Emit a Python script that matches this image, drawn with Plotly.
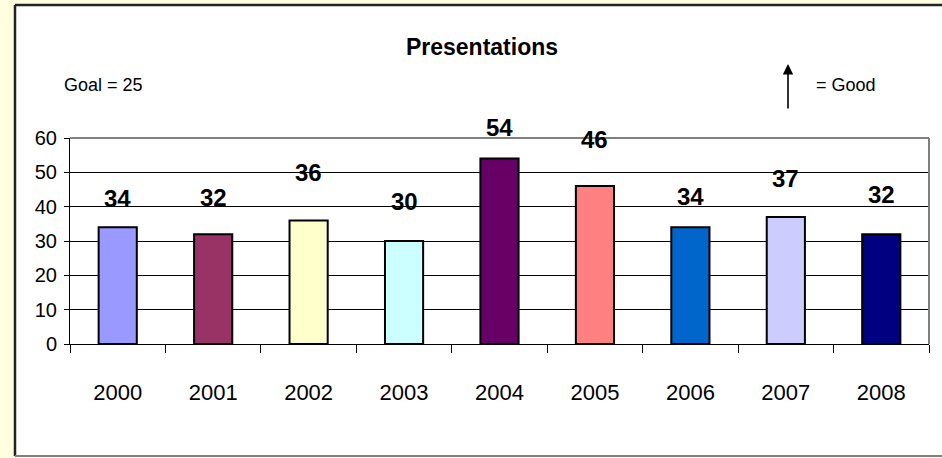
import plotly.graph_objects as go

years = ["2000", "2001", "2002", "2003", "2004", "2005", "2006", "2007", "2008"]
presentations = [34, 32, 36, 30, 54, 46, 34, 37, 32]
bar_colors = ["#9999FF", "#993366", "#FFFFCC", "#CCFFFF", "#660066",
              "#FF8080", "#0066CC", "#CCCCFF", "#000080"]
label_offsets = [29, 37, 48, 40, 31, 47, 31, 38, 40]  # pixel lift of each value label

FONT = "Liberation Sans, Arial, sans-serif"

W, H = 942, 458
L, R, T, B = 70, 13, 138, 114
PW, PH = W - L - R, H - T - B


def px(x):
    return (x - L) / PW


def py(y):
    return (H - B - y) / PH


fig = go.Figure(go.Bar(
    x=years, y=presentations, width=0.4,
    marker=dict(color=bar_colors, line=dict(color="black", width=2)),
    hoverinfo="x+y",
))

annotations = []
for i, (v, off) in enumerate(zip(presentations, label_offsets)):
    annotations.append(dict(
        x=i, y=v, xref="x", yref="y", text="<b>%d</b>" % v, showarrow=False,
        yshift=off, yanchor="middle", font=dict(family=FONT, size=24, color="black"),
    ))

annotations += [
    dict(x=px(62), y=py(85), xref="paper", yref="paper", text="Goal = 25",
         showarrow=False, xanchor="left", yanchor="middle",
         font=dict(family=FONT, size=18, color="black")),
    dict(x=px(814), y=py(85), xref="paper", yref="paper", text="= Good",
         showarrow=False, xanchor="left", yanchor="middle",
         font=dict(family=FONT, size=18, color="black")),
    dict(x=px(788), y=py(64), xref="paper", yref="paper", text="",
         showarrow=True, ax=0, ay=46, arrowhead=2, arrowsize=1.3,
         arrowwidth=1.6, arrowcolor="black"),
]

shapes = [
    # white chart panel
    dict(type="rect", xref="paper", yref="paper", x0=px(15), x1=px(945),
         y0=py(456), y1=py(5), fillcolor="white", line=dict(width=0), layer="below"),
    dict(type="line", xref="paper", yref="paper", x0=px(15), x1=px(15),
         y0=py(456), y1=py(5), line=dict(color="#222222", width=2.5)),
    dict(type="line", xref="paper", yref="paper", x0=px(15), x1=px(945),
         y0=py(5), y1=py(5), line=dict(color="#222222", width=2.5)),
    dict(type="line", xref="paper", yref="paper", x0=px(15), x1=px(945),
         y0=py(456), y1=py(456), line=dict(color="#808080", width=2)),
    # plot area border (top / right gray)
    dict(type="line", xref="paper", yref="paper", x0=0, x1=1, y0=1, y1=1,
         line=dict(color="#808080", width=2)),
    dict(type="line", xref="paper", yref="paper", x0=1, x1=1, y0=0, y1=1,
         line=dict(color="#808080", width=2)),
]

fig.update_layout(
    width=W, height=H,
    margin=dict(l=L, r=R, t=T, b=B, pad=0),
    paper_bgcolor="#FFFFE0",
    plot_bgcolor="white",
    showlegend=False,
    bargap=0.6,
    title=dict(text="<b>Presentations</b>", x=482 / W, y=1 - 47 / H,
               xanchor="center", yanchor="middle", xref="container", yref="container",
               font=dict(family=FONT, size=23, color="black")),
    annotations=annotations,
    shapes=shapes,
    xaxis=dict(
        type="category", showgrid=False, showline=True, linecolor="black", linewidth=1,
        ticks="outside", tickson="boundaries", ticklen=8, tickcolor="black",
        tickfont=dict(family=FONT, size=22, color="black"), tickangle=0,
        ticklabelstandoff=29, fixedrange=True,
    ),
    yaxis=dict(
        range=[0, 60], dtick=10, showgrid=True, gridcolor="black", gridwidth=1,
        showline=True, linecolor="black", linewidth=1, ticks="outside", ticklen=5,
        tickcolor="black", tickfont=dict(family=FONT, size=20, color="black"),
        zeroline=False, fixedrange=True, ticklabelstandoff=3,
    ),
)

fig.write_html(
    "out.html",
    config={"displayModeBar": False},
    post_script="document.body.style.margin='0';document.body.style.background='#FFFFE0';",
)
